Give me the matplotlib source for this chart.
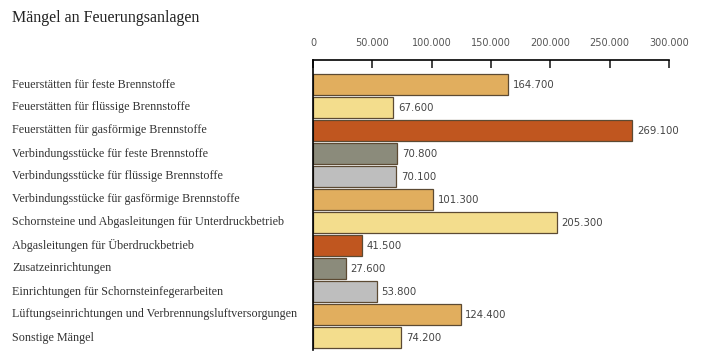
import matplotlib.pyplot as plt
import matplotlib.ticker as ticker

categories = [
    "Feuerstätten für feste Brennstoffe",
    "Feuerstätten für flüssige Brennstoffe",
    "Feuerstätten für gasförmige Brennstoffe",
    "Verbindungsstücke für feste Brennstoffe",
    "Verbindungsstücke für flüssige Brennstoffe",
    "Verbindungsstücke für gasförmige Brennstoffe",
    "Schornsteine und Abgasleitungen für Unterdruckbetrieb",
    "Abgasleitungen für Überdruckbetrieb",
    "Zusatzeinrichtungen",
    "Einrichtungen für Schornsteinfegerarbeiten",
    "Lüftungseinrichtungen und Verbrennungsluftversorgungen",
    "Sonstige Mängel",
]
values = [164700, 67600, 269100, 70800, 70100, 101300,
          205300, 41500, 27600, 53800, 124400, 74200]
colors = ["#E1AE5E", "#F3DD8D", "#C0561F", "#8B8B7B", "#BEBEBE", "#E1AE5E",
          "#F3DD8D", "#C0561F", "#8B8B7B", "#BEBEBE", "#E1AE5E", "#F3DD8D"]
xticks = [0, 50000, 100000, 150000, 200000, 250000, 300000]


def de_fmt(v, pos=None):
    return f"{int(v):,}".replace(",", ".")


fig = plt.figure(figsize=(7.08, 3.63), dpi=100)
ax = fig.add_axes([313 / 708, 13 / 363, 356 / 708, 290 / 363])

ypos = list(range(len(categories)))
ax.barh(ypos, values, height=0.9, color=colors, edgecolor="#5C4A33", linewidth=0.9)

for y, v in zip(ypos, values):
    ax.text(v + 4000, y, de_fmt(v), va="center", ha="left",
            fontsize=7.3, color="#444444", family="DejaVu Sans")

ax.set_xlim(0, 300000)
ax.set_ylim(11.54, -1.065)
ax.set_xticks(xticks)
ax.xaxis.set_major_formatter(ticker.FuncFormatter(de_fmt))
ax.xaxis.tick_top()
ax.tick_params(axis="x", direction="in", length=6, width=1.2, color="#222222",
               labelsize=7, labelcolor="#555555", pad=9)
ax.set_yticks([])
for s in ["right", "bottom"]:
    ax.spines[s].set_visible(False)
ax.spines["top"].set_linewidth(1.2)
ax.spines["left"].set_linewidth(1.2)

for y, c in zip(ypos, categories):
    fig.text(12 / 708, 1 - (84.5 + 23 * y) / 363, c, va="center", ha="left",
             fontsize=8.7, color="#333333", family="Liberation Serif")

fig.text(12 / 708, 1 - 18 / 363, "Mängel an Feuerungsanlagen", va="center", ha="left",
         fontsize=11.5, color="#222222", family="Liberation Serif")

fig.savefig("out.png", dpi=100)
